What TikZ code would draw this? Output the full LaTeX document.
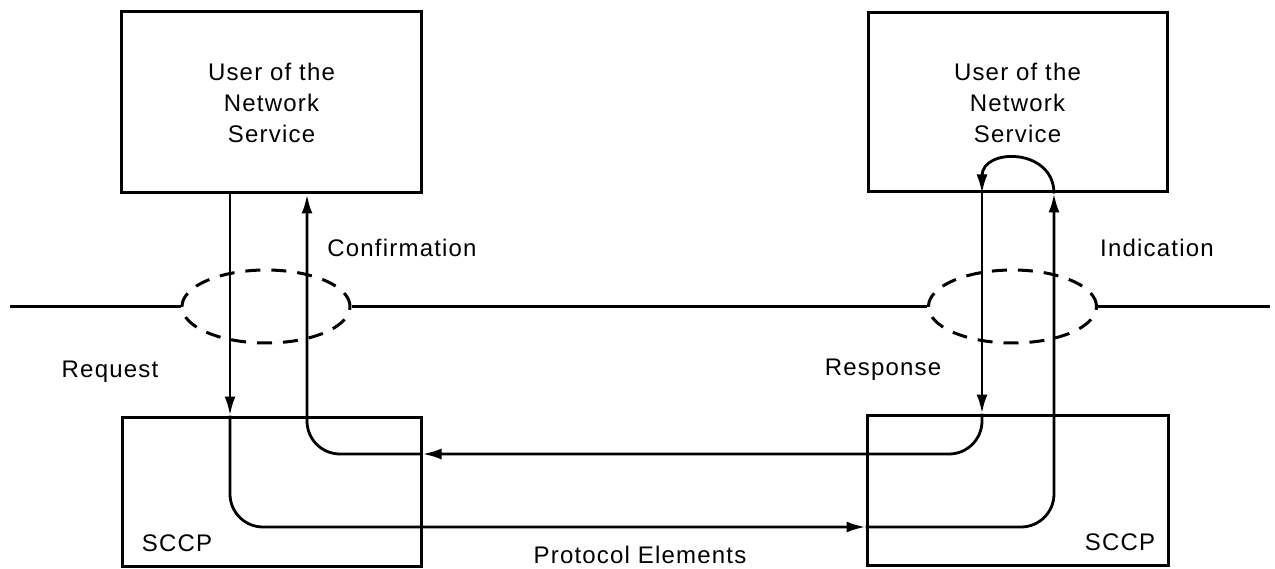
\documentclass[tikz,border=0pt]{standalone}
\usepackage{fontspec}
\setmainfont{Liberation Sans}[LetterSpace=5]
\usetikzlibrary{arrows.meta,shapes.geometric}
\begin{document}
\begin{tikzpicture}[x=1pt,y=-1pt,
  box/.style={draw,line width=3pt,inner sep=0pt},
  ell/.style={draw,ellipse,line width=3pt,dash pattern=on 15pt off 11pt,inner sep=0pt},
  flow/.style={line width=2.8pt,-{Latex[length=19pt,width=11pt]}},
  lbl/.style={font=\fontsize{24}{31}\selectfont,inner sep=0pt},
  net/.style={line width=3pt}]
\useasboundingbox (0,0) rectangle (1275,569);
% boxes
\node[box,minimum width=300pt,minimum height=181pt,lbl,align=center] (u1) at (271.5,102.5) {User of the\\Network\\Service};
\node[box,minimum width=299pt,minimum height=179pt,lbl,align=center] (u2) at (1017.5,102.5) {User of the\\Network\\Service};
\node[box,minimum width=299pt,minimum height=149pt] (s1) at (271.5,491.5) {};
\node[box,minimum width=301pt,minimum height=150pt] (s2) at (1017.5,490) {};
% ellipses and network line
\node[ell,minimum width=168pt,minimum height=73pt] (e1) at (266,306.5) {};
\node[ell,minimum width=168pt,minimum height=73pt] (e2) at (1012.5,306.5) {};
\coordinate (nl) at (10,306.5);
\coordinate (nr) at (1270,306.5);
\draw[net] (nl) -- (e1.west);
\draw[net] (e1.east) -- (e2.west);
\draw[net] (e2.east) -- (nr);
% flow x positions
\coordinate (rq) at (230,0);
\coordinate (cf) at (307,0);
\coordinate (rs) at (982,0);
\coordinate (in) at (1054,0);
\coordinate (hc) at (0,454);
\coordinate (hr) at (0,527);
% request -> indication
\draw[flow] (u1.south -| rq) -- (s1.north -| rq);
\draw[flow,rounded corners=33pt] (s1.north -| rq) |- (s2.west |- hr);
\draw[flow,rounded corners=33pt] (s2.west |- hr) -| (u2.south -| in);
% turnaround in user
\draw[flow] (u2.south -| in) .. controls ([yshift=46pt]u2.south -| in) and ([yshift=46pt]u2.south -| rs) .. (u2.south -| rs);
% response -> confirmation
\draw[flow] (u2.south -| rs) -- (s2.north -| rs);
\draw[flow,rounded corners=33pt] (s2.north -| rs) |- (s1.east |- hc);
\draw[flow,rounded corners=33pt] (s1.east |- hc) -| (u1.south -| cf);
% labels
\node[lbl] (lc) at (402,248) {Confirmation};
\node[lbl] (li) at (1157,248) {Indication};
\node[lbl] (lq) at (110,372) {Request};
\node[lbl] (lr) at (883,370) {Response};
\node[lbl] (lp) at (640,555) {Protocol Elements};
\node[lbl] (sc1) at (177,543) {SCCP};
\node[lbl] (sc2) at (1120,542) {SCCP};
\end{tikzpicture}
\end{document}
